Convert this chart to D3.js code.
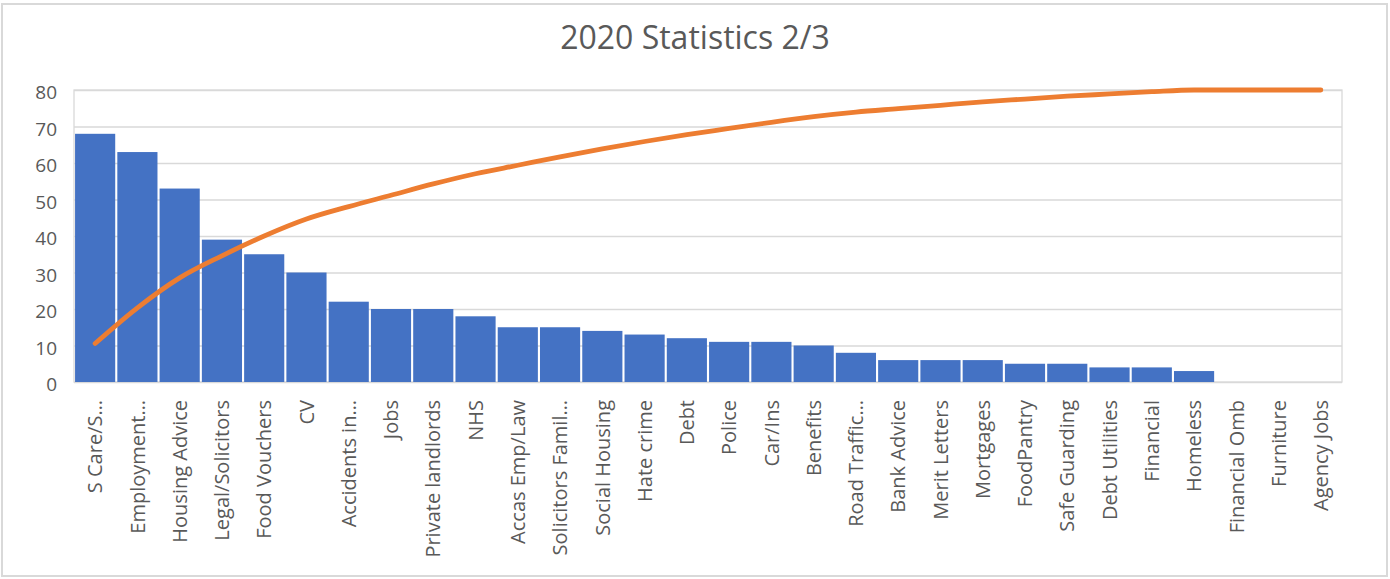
<!DOCTYPE html>
<html>
<head>
<meta charset="utf-8">
<script src="https://cdn.jsdelivr.net/npm/d3@7/dist/d3.min.js"></script>
<style>
  html, body { margin: 0; padding: 0; background: #ffffff; }
  svg { display: block; }
  text { font-family: "Open Sans", "Noto Sans", sans-serif; fill: #595959; }
</style>
</head>
<body>
<svg id="chart" width="1390" height="579"></svg>
<script>
// Enquiry categories, sorted by count (Pareto order)
const categories = [
  "S Care/S…", "Employment…", "Housing Advice", "Legal/Solicitors", "Food Vouchers",
  "CV", "Accidents in…", "Jobs", "Private landlords", "NHS",
  "Accas Emp/Law", "Solicitors Famil…", "Social Housing", "Hate crime", "Debt",
  "Police", "Car/Ins", "Benefits", "Road Traffic…", "Bank Advice",
  "Merit Letters", "Mortgages", "FoodPantry", "Safe Guarding", "Debt Utilities",
  "Financial", "Homeless", "Financial Omb", "Furniture", "Agency Jobs"
];
const counts = [
  68, 63, 53, 39, 35,
  30, 22, 20, 20, 18,
  15, 15, 14, 13, 12,
  11, 11, 10, 8, 6,
  6, 6, 5, 5, 4,
  4, 3, 0, 0, 0
];
const yTicks = [0, 10, 20, 30, 40, 50, 60, 70, 80];
const chartTitle = "2020 Statistics 2/3";

const svg = d3.select("#chart");
const W = 1390, H = 579;
const plot = { left: 74, right: 1342, top: 90, bottom: 382 };

// outer chart frame
svg.append("rect")
  .attr("x", 2).attr("y", 4)
  .attr("width", W - 5).attr("height", H - 7)
  .attr("fill", "#ffffff")
  .attr("stroke", "#d9d9d9").attr("stroke-width", 2);

// title
svg.append("text")
  .attr("x", 695).attr("y", 49)
  .attr("text-anchor", "middle")
  .style("font-size", "32px")
  .text(chartTitle);

const x = d3.scaleBand()
  .domain(categories)
  .range([plot.left, plot.right])
  .paddingInner(0.05)
  .paddingOuter(0.025);

const y = d3.scaleLinear()
  .domain([0, 80])
  .range([plot.bottom, plot.top]);

// hidden secondary axis: cumulative share 0–100 %
const yPct = d3.scaleLinear()
  .domain([0, 1])
  .range([plot.bottom, plot.top]);

// gridlines
const grid = svg.append("g")
  .attr("transform", `translate(${plot.left},0)`)
  .call(d3.axisLeft(y).tickValues(yTicks).tickSize(-(plot.right - plot.left)).tickFormat(""));
grid.select(".domain").remove();
grid.selectAll("line").attr("stroke", "#d9d9d9").attr("stroke-width", 1.3);

// plot area edges
svg.append("rect")
  .attr("x", plot.left).attr("y", plot.top)
  .attr("width", plot.right - plot.left).attr("height", plot.bottom - plot.top)
  .attr("fill", "none").attr("stroke", "#d9d9d9").attr("stroke-width", 1.3);

// y axis labels
const yAxis = svg.append("g")
  .attr("transform", `translate(${plot.left},0)`)
  .call(d3.axisLeft(y).tickValues(yTicks).tickSize(0).tickPadding(17));
yAxis.select(".domain").remove();
yAxis.selectAll("text")
  .attr("dy", "0.45em")
  .style("font-size", "19px")
  .style("font-family", "'Open Sans', sans-serif")
  .attr("fill", "#595959");

// bars
svg.append("g")
  .selectAll("rect")
  .data(categories.map((c, i) => ({ c, v: counts[i] })))
  .join("rect")
  .attr("x", d => x(d.c))
  .attr("y", d => y(d.v))
  .attr("width", x.bandwidth())
  .attr("height", d => y(0) - y(d.v))
  .attr("fill", "#4472c4");

// x axis labels (rotated)
const xAxis = svg.append("g")
  .attr("transform", `translate(0,${plot.bottom})`)
  .call(d3.axisBottom(x).tickSize(0).tickPadding(0));
xAxis.select(".domain").remove();
xAxis.selectAll("text")
  .attr("transform", "rotate(-90)")
  .attr("text-anchor", "end")
  .attr("x", -18)
  .attr("y", 0)
  .attr("dy", "0.36em")
  .style("font-size", "20px")
  .style("font-family", "'Open Sans', sans-serif")
  .attr("fill", "#595959");

// cumulative percentage line
const total = d3.sum(counts);
const cumShare = d3.cumsum(counts).map(s => s / total);
const line = d3.line()
  .x((d, i) => x(categories[i]) + x.bandwidth() / 2)
  .y(d => yPct(d))
  .curve(d3.curveMonotoneX);

svg.append("path")
  .datum(Array.from(cumShare))
  .attr("d", line)
  .attr("fill", "none")
  .attr("stroke", "#ed7d31")
  .attr("stroke-width", 4.8)
  .attr("stroke-linecap", "round")
  .attr("stroke-linejoin", "round");
</script>
</body>
</html>
